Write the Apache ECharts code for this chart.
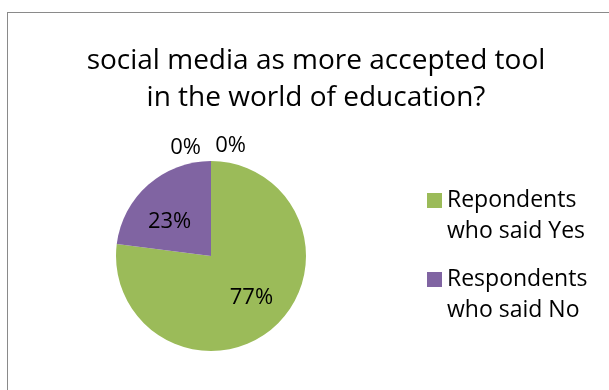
<!DOCTYPE html>
<html>
<head>
<meta charset="utf-8">
<script src="https://cdn.jsdelivr.net/npm/echarts@6/dist/echarts.min.js"></script>
<style>
html,body{margin:0;padding:0;background:#fff;overflow:hidden;}
#frame{position:absolute;left:7px;top:12px;width:700px;height:500px;border:1px solid #8a8a8a;box-sizing:border-box;}
#main{position:absolute;left:0;top:0;width:609px;height:390px;}
</style>
</head>
<body>
<div id="frame"></div>
<div id="main"></div>
<script>
const titleText = 'social media as more accepted tool\nin the world of education?';
const categories = ['Repondents who said Yes', 'Respondents who said No', 'Category 3', 'Category 4'];
const values = [77, 23, 0, 0];
const colors = ['#9BBB59', '#8064A2', '#4BACC6', '#F79646'];
const legendItems = categories.slice(0, 2);

const chart = echarts.init(document.getElementById('main'));
const font = 'Open Sans';
const data = categories.map((name, i) => {
  const item = { name: name, value: values[i], itemStyle: { color: colors[i] } };
  if (values[i] === 0) {
    item.label = { position: 'outside' };
    item.labelLine = { show: false };
  }
  return item;
});

chart.setOption({
  animation: false,
  backgroundColor: 'transparent',
  title: {
    text: titleText,
    left: 311,
    textAlign: 'center',
    top: 38,
    textStyle: { fontFamily: font, fontSize: 28, fontWeight: 'normal', color: '#000', lineHeight: 37 }
  },
  legend: {
    data: legendItems,
    orient: 'vertical',
    left: 422,
    top: 180,
    itemWidth: 15,
    itemHeight: 46,
    itemGap: 17,
    icon: 'path://M0,0L15,0L15,15L0,15Z M0,46',
    formatter: n => n.replace(' who', '\nwho'),
    textStyle: { fontFamily: font, fontSize: 23, color: '#000', lineHeight: 31 }
  },
  series: [{
    type: 'pie',
    center: [211, 256],
    radius: 95,
    startAngle: 90,
    clockwise: true,
    avoidLabelOverlap: false,
    data: data,
    label: {
      show: true,
      position: 'inside',
      formatter: '{d}%',
      fontFamily: font,
      fontSize: 22,
      color: '#000'
    },
    labelLayout: function (p) {
      if (p.dataIndex === 0) return { dx: 7, dy: 4 };
      if (p.dataIndex === 1) return { dx: -8, dy: 4 };
      if (p.dataIndex === 2) return { dx: 25, dy: 2 };
      if (p.dataIndex === 3) return { dx: 70, dy: 0 };
      return {};
    },
    itemStyle: { borderWidth: 0 },
    emphasis: { disabled: true }
  }]
});
</script>
</body>
</html>
